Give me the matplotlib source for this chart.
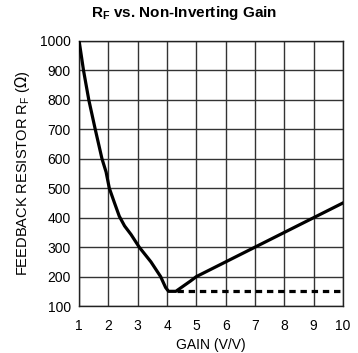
import matplotlib.pyplot as plt
import numpy as np

plt.rcParams['font.family'] = ['Liberation Sans', 'DejaVu Sans']

# solid curve: RF vs gain
gain = [1.0, 1.15, 1.33, 1.55, 1.78, 1.92, 2.03, 2.2, 2.37, 2.55, 2.77, 3.05, 3.45, 3.78, 3.95, 4.05, 4.3, 4.8, 5.0, 7.0, 9.0, 10.0]
rf = [1000, 900, 800, 700, 600, 555, 500, 452, 405, 372, 343, 300, 250, 200, 163, 150, 150, 185, 200, 300, 400, 450]

# dashed floor
gain_floor = [4.35, 10.0]
rf_floor = [150, 150]

xticks = [1, 2, 3, 4, 5, 6, 7, 8, 9, 10]
yticks = [100, 200, 300, 400, 500, 600, 700, 800, 900, 1000]

fig = plt.figure(figsize=(3.58, 3.53), dpi=100)
ax = fig.add_axes([0.221, 0.133, 0.737, 0.751])

ax.plot(gain, rf, color='black', lw=2.3, solid_joinstyle='round', zorder=3)
ax.plot(gain_floor, rf_floor, color='black', lw=2.3, ls=(0, (2.0, 1.5)), zorder=3)

ax.set_xlim(1, 10)
ax.set_ylim(100, 1000)
ax.set_xticks(xticks)
ax.set_yticks(yticks)
ax.grid(True, color='#333333', lw=1.0)
ax.tick_params(length=0, labelsize=10, pad=6)
ax.tick_params(axis='x', pad=9)
for s in ax.spines.values():
    s.set_color('#222222')
    s.set_linewidth(1.0)

ax.set_xlabel('GAIN (V/V)', fontsize=10, labelpad=4)
ax.set_ylabel(r'FEEDBACK RESISTOR R$_\mathregular{F}$ ($\Omega$)', fontsize=10.5, labelpad=6)
fig.text(0.515, 0.962, r'R$_\mathregular{F}$ vs. Non-Inverting Gain', ha='center', va='center',
         fontsize=11, fontweight='bold')

fig.savefig('out.png', dpi=100)
